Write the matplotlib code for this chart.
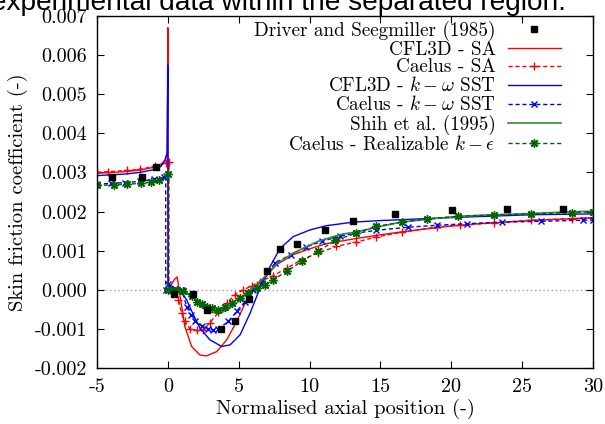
import matplotlib
matplotlib.use('Agg')
import matplotlib.pyplot as plt
from matplotlib.ticker import FuncFormatter, MultipleLocator

plt.rcParams['font.family'] = ['cmr10']
plt.rcParams['mathtext.fontset'] = 'cm'
plt.rcParams['axes.unicode_minus'] = False
plt.rcParams['axes.formatter.use_mathtext'] = True

# Driver and Seegmiller (1985) experiment
exp_x = [-3.96, -1.85, -0.86, 0.43, 1.75, 2.73, 3.72, 4.74, 5.74, 6.97, 7.9, 9.1,
         11.08, 13.05, 16.03, 20.05, 23.9, 27.9]
exp_y = [0.00289, 0.00288, 0.00314, -0.0001, -0.0001, -0.00052, -0.001, -0.00081, -0.00023,
         0.00047, 0.00103, 0.00118, 0.00154, 0.00175, 0.00193, 0.00203, 0.00206, 0.00206]

# CFL3D - SA
sa_cfl_x = [-5, -4, -3, -2, -1, -0.5, -0.2, -0.05, 0, 0.02, 0.2, 0.45, 0.66, 0.9, 1.2, 1.68,
            2.27, 2.73, 3.45, 4.15, 4.86, 5.56, 6.27, 6.97, 7.67, 8.85, 10.03, 11.2, 13.1,
            14.7, 16.5, 19.7, 22, 25.6, 28, 30]
sa_cfl_y = [0.00298, 0.003, 0.00302, 0.00306, 0.00313, 0.0032, 0.00332, 0.0035, 0.0067, 0.0,
            0.0001, 0.00026, 0.00033, -0.00026, -0.00094, -0.00145, -0.00167, -0.00169,
            -0.00158, -0.00128, -0.00081, -0.00026, 0.00009, 0.00036, 0.00064, 0.0009, 0.00105,
            0.00118, 0.0013, 0.00139, 0.00148, 0.00162, 0.00169, 0.00177, 0.00181, 0.00184]

# Caelus - SA
sa_cae_x = [-5, -4.2, -2.9, -2, -0.9, -0.1, 0.08, 0.08, 0.4, 0.74, 0.97, 1.2, 1.55, 2.03, 2.5,
            2.97, 3.56, 4.15, 4.74, 5.33, 5.92, 6.5, 7.44, 8.38, 9.45, 10.6, 11.9, 13.3, 14.7,
            16.5, 19, 20.6, 23, 25.6, 28.5, 30]
sa_cae_y = [0.003, 0.00302, 0.00305, 0.00308, 0.00316, 0.00325, 0.00326, 0.00002, -0.00005,
            -0.00026, -0.0006, -0.00081, -0.001, -0.00104, -0.00103, -0.00084, -0.00058,
            -0.00034, -0.00013, 0.0, 0.0001, 0.00021, 0.00036, 0.00055, 0.00077, 0.00094,
            0.00111, 0.00122, 0.00135, 0.00147, 0.00161, 0.00165, 0.00171, 0.00178, 0.00182,
            0.00184]

# CFL3D - k-omega SST
sst_cfl_x = [-5, -4, -3, -2, -1, -0.5, -0.2, -0.05, 0, 0.02, 0.38, 0.85, 1.33, 1.8, 2.27, 2.97,
             3.8, 4.39, 5.1, 5.8, 6.4, 7.0, 7.9, 8.85, 10.03, 11.2, 13.1, 15, 17.6, 21, 25.8, 30]
sst_cfl_y = [0.00292, 0.00294, 0.00296, 0.003, 0.00307, 0.00315, 0.0033, 0.0035, 0.00575,
             0.00015, 0.00007, 0.0, -0.00026, -0.00064, -0.00098, -0.00128, -0.00145, -0.00141,
             -0.00115, -0.0006, -0.00005, 0.00045, 0.00105, 0.00136, 0.00153, 0.00164,
             0.00173, 0.00177, 0.00181, 0.00186, 0.00192, 0.00194]

# Caelus - k-omega SST
sst_cae_x = [-5, -4, -3, -2, -1, -0.3, -0.15, -0.15, 0.0, 0.5, 0.97, 1.33, 1.6, 1.92, 2.39, 2.86,
             3.21, 3.56, 4.27, 4.86, 5.45, 6.03, 6.62, 7.56, 8.67, 9.75, 10.86, 12.15, 13.3,
             14.7, 16.97, 19, 21.1, 23.55, 26.3, 29.3, 30]
sst_cae_y = [0.0027, 0.00272, 0.00274, 0.00277, 0.00282, 0.00288, 0.0029, 0.0, 0.00015, 0.00002,
             0.0, -0.00043, -0.00064, -0.00081, -0.00092, -0.001, -0.00103, -0.001, -0.00081,
             -0.00055, -0.0003, 0.0, 0.00017, 0.00068, 0.0009, 0.00109, 0.00124, 0.00137,
             0.00145, 0.00152, 0.0016, 0.00165, 0.00169, 0.00173, 0.00175, 0.00178, 0.00178]

# Shih et al. (1995)
shih_x = [0.0, 0.6, 1.2, 1.8, 2.5, 3.1, 3.68, 4.27, 4.98, 5.68, 6.39, 7.09, 7.67, 8.85, 10.6,
          12.15, 13.56, 14.97, 16.5, 18.5, 20.6, 23, 25.6, 28, 30]
shih_y = [0.0, 0.0, -0.00005, -0.00017, -0.00047, -0.00058, -0.0006, -0.0005, -0.0003, -0.00004,
          0.00017, 0.00043, 0.00066, 0.00094, 0.00124, 0.00141, 0.0015, 0.00162, 0.00173,
          0.00181, 0.00188, 0.00192, 0.00195, 0.00199, 0.00201]

# Caelus - Realizable k-epsilon
rke_x = [-5, -3.8, -2.9, -1.9, -1.2, -0.6, 0.0, 0.0, 0.25, 0.62, 1.09, 1.68, 2.03, 2.39, 2.74,
         3.1, 3.56, 4.03, 4.51, 5.1, 5.68, 6.27, 6.86, 7.44, 8.38, 9.45, 10.6, 11.8, 13.3, 14.7,
         16.5, 18.3, 20.5, 23, 25.6, 28.5, 30]
rke_y = [0.00267, 0.00268, 0.0027, 0.00272, 0.00275, 0.0028, 0.00295, 0.0, 0.0, 0.0, -0.00004,
         -0.00017, -0.0003, -0.00037, -0.00044, -0.00047, -0.00051, -0.00044, -0.00034,
         -0.00021, -0.00009, 0.00004, 0.00013, 0.00026, 0.00047, 0.00073, 0.00098, 0.00126,
         0.00145, 0.00162, 0.00173, 0.00181, 0.00188, 0.00191, 0.00194, 0.00197, 0.002]

fig = plt.figure(figsize=(6.05, 4.24), dpi=100)
ax = fig.add_axes([97 / 605, 1 - 368 / 424, (593 - 97) / 605, (368 - 16) / 424])

ax.axhline(0, color='#a0a0a0', linestyle=(0, (1, 2)), linewidth=1.0, zorder=1)

dash = (0, (3, 2))
ax.plot(exp_x, exp_y, 's', color='black', markersize=4.5, linestyle='none',
        label='Driver and Seegmiller (1985)', zorder=5)
ax.plot(sa_cfl_x, sa_cfl_y, '-', color='#ff0000', linewidth=1.0, label='CFL3D - SA')
ax.plot(sa_cae_x, sa_cae_y, color='#ff0000', linestyle=dash, linewidth=1.0, marker='+',
        markersize=6, markeredgewidth=1.0, label='Caelus - SA')
ax.plot(sst_cfl_x, sst_cfl_y, '-', color='#0000ff', linewidth=1.0,
        label=r'CFL3D - $k-\omega$ SST')
ax.plot(sst_cae_x, sst_cae_y, color='#0000ff', linestyle=dash, linewidth=1.0, marker='x',
        markersize=5, markeredgewidth=1.0, label=r'Caelus - $k-\omega$ SST')
ax.plot(shih_x, shih_y, '-', color='#3a8a3a', linewidth=1.2, label='Shih et al. (1995)')
ax.plot(rke_x, rke_y, color='#006400', linestyle=dash, linewidth=1.0, marker=(8, 2, 0),
        markersize=6, markeredgewidth=1.0, label=r'Caelus - Realizable $k-\epsilon$')

ax.set_xlim(-5, 30)
ax.set_ylim(-0.002, 0.007)
ax.xaxis.set_major_locator(MultipleLocator(5))
ax.yaxis.set_major_locator(MultipleLocator(0.001))
ax.xaxis.set_major_formatter(FuncFormatter(lambda v, p: '%d' % round(v)))
ax.yaxis.set_major_formatter(FuncFormatter(lambda v, p: '%.3f' % v))
ax.tick_params(direction='in', top=True, right=True, length=5, width=0.8,
               labelsize=14.5, pad=7)
for s in ax.spines.values():
    s.set_linewidth(1.0)

ax.set_xlabel('Normalised axial position (-)', fontsize=14.8, labelpad=2)
ax.set_ylabel('Skin friction coefficient (-)', fontsize=14.8, labelpad=5)

leg = ax.legend(loc='upper right', bbox_to_anchor=(0.958, 1.02), frameon=False,
                markerfirst=False, fontsize=13.8, handlelength=2.75, labelspacing=0.0,
                borderaxespad=0.2, handletextpad=0.65)
for t in leg.get_texts():
    t.set_ha('right')

fig.text(566 / 605, 1 - 9.5 / 424, 'the experimental data within the separated region.',
         ha='right', va='baseline', fontsize=20.2, family='Liberation Sans')

fig.savefig('out.png', dpi=100)
